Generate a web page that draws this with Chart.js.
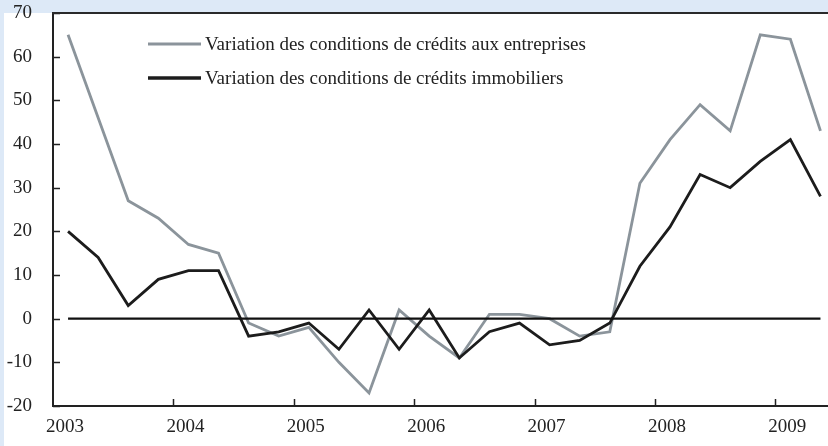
<!DOCTYPE html>
<html>
<head>
<meta charset="utf-8">
<script src="https://cdn.jsdelivr.net/npm/chart.js@4.4.0/dist/chart.umd.min.js"></script>
<style>
    html, body { margin: 0; padding: 0; background: #dde9f7; }
    #wrap { width: 828px; height: 446px; position: relative; }
</style>
</head>
<body>
<div id="wrap"><canvas id="creditChart"></canvas></div>
<script>
// trimestres 2003 T1 -> 2009 T2
const quarters = [
    '2003 T1', '2003 T2', '2003 T3', '2003 T4',
    '2004 T1', '2004 T2', '2004 T3', '2004 T4',
    '2005 T1', '2005 T2', '2005 T3', '2005 T4',
    '2006 T1', '2006 T2', '2006 T3', '2006 T4',
    '2007 T1', '2007 T2', '2007 T3', '2007 T4',
    '2008 T1', '2008 T2', '2008 T3', '2008 T4',
    '2009 T1', '2009 T2'
];
const years = ['2003', '2004', '2005', '2006', '2007', '2008', '2009'];
const creditsEntreprises = [65, 46, 27, 23, 17, 15, -1, -4, -2, -10, -17, 2, -4, -9, 1, 1, 0, -4, -3, 31, 41, 49, 43, 65, 64, 43];
const creditsImmobiliers = [20, 14, 3, 9, 11, 11, -4, -3, -1, -7, 2, -7, 2, -9, -3, -1, -6, -5, -1, 12, 21, 33, 30, 36, 41, 28];
const seriesNames = [
    'Variation des conditions de crédits aux entreprises',
    'Variation des conditions de crédits immobiliers'
];

const serifFont = '"Liberation Serif", "DejaVu Serif", serif';
const grey = '#8b949b';
const dark = '#1c1c1c';

function toPoints(values) {
    return values.map((v, i) => ({ x: i + 0.5, y: v }));
}

const panelBackground = {
    id: 'panelBackground',
    beforeDraw(chart) {
        const ctx = chart.ctx;
        const area = chart.chartArea;
        ctx.save();
        ctx.fillStyle = '#dde9f7';
        ctx.fillRect(0, 0, chart.width, chart.height);
        ctx.fillStyle = '#ffffff';
        ctx.fillRect(4, area.top, chart.width - 4, chart.height - area.top);
        ctx.restore();
    }
};

// ticks pointing into the plot + top frame line
const frameTicks = {
    id: 'frameTicks',
    afterDraw(chart) {
        const ctx = chart.ctx;
        const area = chart.chartArea;
        const xs = chart.scales.x;
        const ys = chart.scales.y;
        ctx.save();
        ctx.strokeStyle = '#222';
        ctx.lineWidth = 1.5;
        ctx.beginPath();
        xs.ticks.forEach(t => {
            if (t.value === 0) return;
            const px = Math.round(xs.getPixelForValue(t.value)) + 0.5;
            ctx.moveTo(px, area.bottom);
            ctx.lineTo(px, area.bottom - 7);
        });
        ys.ticks.forEach(t => {
            const py = Math.round(ys.getPixelForValue(t.value)) + 0.5;
            ctx.moveTo(area.left, py);
            ctx.lineTo(area.left + 7, py);
        });
        ctx.stroke();
        ctx.lineWidth = 2;
        ctx.strokeStyle = '#2a2a2a';
        ctx.beginPath();
        ctx.moveTo(area.left - 1, area.top);
        ctx.lineTo(chart.width, area.top);
        ctx.stroke();
        ctx.restore();
    }
};

const insideLegend = {
    id: 'insideLegend',
    afterDraw(chart) {
        const ctx = chart.ctx;
        const area = chart.chartArea;
        const x0 = area.left + 95;
        const rows = [area.top + 31, area.top + 65];
        ctx.save();
        ctx.font = '19px ' + serifFont;
        ctx.textBaseline = 'middle';
        ctx.fillStyle = '#222';
        [0, 1].forEach(i => {
            const ds = chart.data.datasets[i];
            ctx.strokeStyle = ds.borderColor;
            ctx.lineWidth = i === 0 ? 3 : 3.5;
            ctx.beginPath();
            ctx.moveTo(x0, rows[i]);
            ctx.lineTo(x0 + 53, rows[i]);
            ctx.stroke();
            ctx.fillText(ds.label, x0 + 57, rows[i] + 1);
        });
        ctx.restore();
    }
};

new Chart(document.getElementById('creditChart'), {
    type: 'line',
    data: {
        datasets: [{
            label: seriesNames[0],
            data: toPoints(creditsEntreprises),
            borderColor: grey,
            borderWidth: 2.8,
            pointRadius: 0,
            tension: 0,
            order: 3
        }, {
            label: seriesNames[1],
            data: toPoints(creditsImmobiliers),
            borderColor: dark,
            borderWidth: 2.8,
            pointRadius: 0,
            tension: 0,
            order: 2
        }, {
            label: 'zero',
            data: toPoints(creditsEntreprises.map(() => 0)),
            borderColor: '#111',
            borderWidth: 2.2,
            pointRadius: 0,
            order: 1
        }]
    },
    options: {
        responsive: true,
        maintainAspectRatio: false,
        animation: false,
        layout: { padding: { top: 13, right: 0, left: 0, bottom: 0 } },
        plugins: {
            legend: { display: false },
            tooltip: { enabled: false }
        },
        scales: {
            x: {
                type: 'linear',
                min: 0,
                max: 25.75,
                afterBuildTicks: s => { s.ticks = years.map((y, i) => ({ value: i * 4 })); },
                afterFit: s => {
                    s.height = 40;
                    s.paddingLeft = 0;
                    s.paddingRight = 0;
                },
                grid: { drawOnChartArea: false, drawTicks: false },
                border: { display: true, color: '#222', width: 2 },
                ticks: {
                    autoSkip: false,
                    maxRotation: 0,
                    labelOffset: 12,
                    padding: 10,
                    color: '#222',
                    font: { family: serifFont, size: 19 },
                    callback: v => years[v / 4] ?? ''
                }
            },
            y: {
                min: -20,
                max: 70,
                afterFit: s => {
                    s.width = 53;
                    s.paddingTop = 0;
                    s.paddingBottom = 0;
                },
                grid: { drawOnChartArea: false, drawTicks: false },
                border: { display: true, color: '#222', width: 2 },
                ticks: {
                    stepSize: 10,
                    padding: 21,
                    color: '#222',
                    font: { family: serifFont, size: 19 }
                }
            }
        }
    },
    plugins: [panelBackground, frameTicks, insideLegend]
});
</script>
</body>
</html>
